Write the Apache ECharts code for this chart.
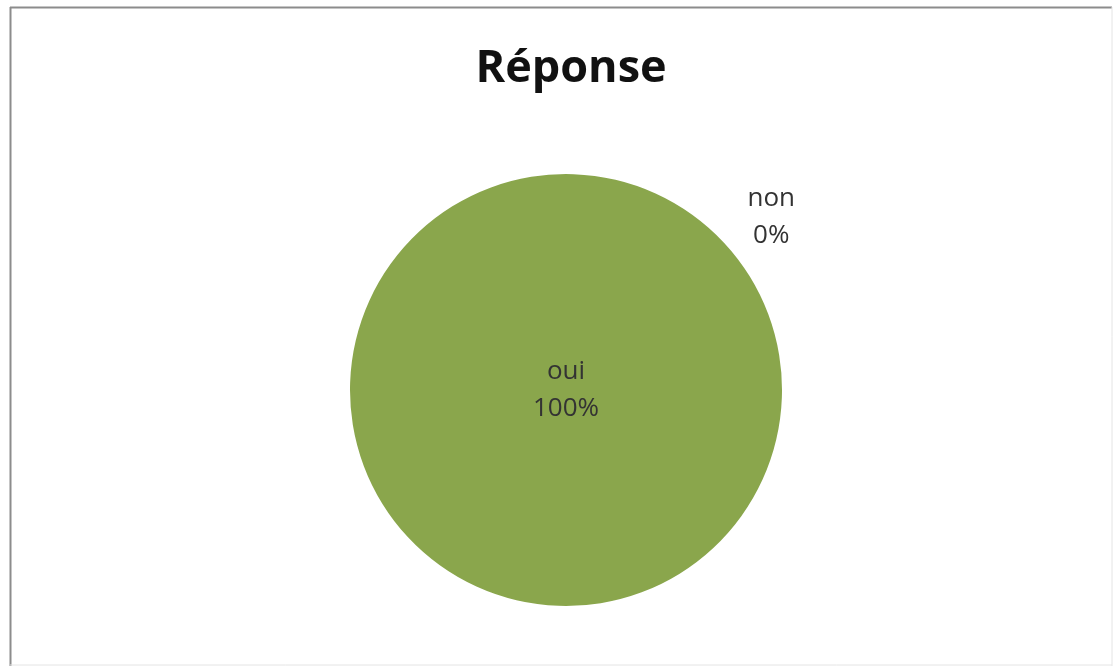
<!DOCTYPE html>
<html>
<head>
<meta charset="utf-8">
<script src="https://cdn.jsdelivr.net/npm/echarts@6/dist/echarts.min.js"></script>
<style>
html,body{margin:0;padding:0;background:#fff;}
#c{width:1116px;height:669px;}
</style>
</head>
<body>
<div id="c"></div>
<script>
const titleText = "Réponse";
const categories = ["oui", "non"];
const values = [100, 0];
const percentLabels = ["100%", "0%"];

const chart = echarts.init(document.getElementById('c'), null, {renderer: 'canvas'});
const font = "'Open Sans', 'Noto Sans', sans-serif";

const data = categories.map((name, i) => ({
  name: name,
  value: values[i],
  label: i === 0 ? {position: 'center'} : {position: 'outside'}
}));

chart.setOption({
  backgroundColor: '#ffffff',
  animation: false,
  title: {
    text: titleText,
    left: 566,
    textAlign: 'center',
    top: 42,
    textStyle: {fontFamily: font, fontWeight: 'bold', fontSize: 45, color: '#111111'}
  },
  graphic: [
    {type: 'line', shape: {x1: 10, y1: 7.5, x2: 1112, y2: 7.5}, style: {stroke: '#8c8c8c', lineWidth: 2}},
    {type: 'line', shape: {x1: 10.5, y1: 7, x2: 10.5, y2: 666}, style: {stroke: '#8c8c8c', lineWidth: 2}},
    {type: 'line', shape: {x1: 1112, y1: 7, x2: 1112, y2: 666}, style: {stroke: '#e4e4e4', lineWidth: 1}},
    {type: 'line', shape: {x1: 10, y1: 665, x2: 1112, y2: 665}, style: {stroke: '#e4e4e4', lineWidth: 1}}
  ],
  series: [{
    type: 'pie',
    center: [566, 390],
    radius: [0, 216],
    startAngle: 43,
    clockwise: true,
    silent: true,
    stillShowZeroSum: true,
    minShowLabelAngle: 0,
    avoidLabelOverlap: false,
    color: ['#8aa64c', '#c0504d'],
    itemStyle: {borderWidth: 0},
    label: {
      show: true,
      fontFamily: font,
      fontSize: 26,
      lineHeight: 37,
      color: '#333333',
      formatter: p => p.name + '\n' + percentLabels[p.dataIndex]
    },
    labelLine: {show: false, length: 40, length2: 0},
    labelLayout: function (p) {
      if (p.dataIndex === 1) return {align: 'center', dx: 13, dy: 2};
      return {};
    },
    data: data
  }]
});
</script>
</body>
</html>
